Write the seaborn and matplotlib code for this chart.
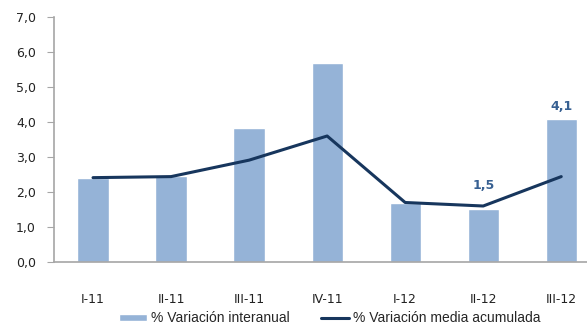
import matplotlib
matplotlib.use("Agg")
import matplotlib.pyplot as plt
import seaborn as sns
import pandas as pd

periodos = ["I-11", "II-11", "III-11", "IV-11", "I-12", "II-12", "III-12"]
var_interanual = [2.4, 2.46, 3.84, 5.7, 1.68, 1.51, 4.08]
var_media_acum = [2.41, 2.44, 2.91, 3.6, 1.7, 1.6, 2.44]
etiquetas = {5: "1,5", 6: "4,1"}

df = pd.DataFrame({"periodo": periodos,
                   "interanual": var_interanual,
                   "media": var_media_acum})

sns.set_style("white")
plt.rcParams["font.family"] = ["DejaVu Sans"]

fig = plt.figure(figsize=(5.87, 3.24), dpi=100)
ax = fig.add_axes([54 / 587, 62 / 324, 1 - 54 / 587, 245 / 324])

bar_col = "#95B3D7"
line_col = "#17365D"

sns.barplot(data=df, x="periodo", y="interanual", color=bar_col, width=0.4,
            saturation=1, ax=ax, label="% Variación interanual")
sns.lineplot(x=range(len(periodos)), y=df["media"], color=line_col, linewidth=2.2,
             ax=ax, label="% Variación media acumulada")

# etiquetas de valor
offsets = {5: 15, 6: 9}
for i, txt in etiquetas.items():
    yref = max(var_interanual[i], var_media_acum[i])
    ax.annotate(txt, (i, yref), xytext=(0, offsets[i]), textcoords="offset points",
                ha="center", va="center", fontsize=9, fontweight="bold", color="#376092")

ax.set_ylim(0, 7)
ax.set_xlim(-0.5, 6.33)
ax.set_yticks(range(8))
ax.set_yticklabels([f"{v},0" for v in range(8)], fontsize=9, color="#222222")
ax.set_xticks(range(len(periodos)))
ax.set_xticklabels(periodos, fontsize=9, color="#222222")
ax.set_xlabel("")
ax.set_ylabel("")

for s in ["top", "right"]:
    ax.spines[s].set_visible(False)
for s in ["left", "bottom"]:
    ax.spines[s].set_color("#A6A6A6")
    ax.spines[s].set_linewidth(1.2)
ax.tick_params(axis="y", which="both", left=True, length=5, color="#A6A6A6", pad=8)
ax.tick_params(axis="x", length=0, pad=22)

handles, labels = ax.get_legend_handles_labels()
order = [labels.index("% Variación interanual"), labels.index("% Variación media acumulada")]
ax.legend([handles[k] for k in order], [labels[k] for k in order],
          loc="center", bbox_to_anchor=(0.562, 0.017), bbox_transform=fig.transFigure,
          ncol=2, frameon=False, handlelength=2.0, handleheight=0.45,
          columnspacing=2.3, handletextpad=0.3, borderpad=0.1,
          prop={"family": "Liberation Sans", "size": 10})

fig.savefig("out.png", dpi=100)
